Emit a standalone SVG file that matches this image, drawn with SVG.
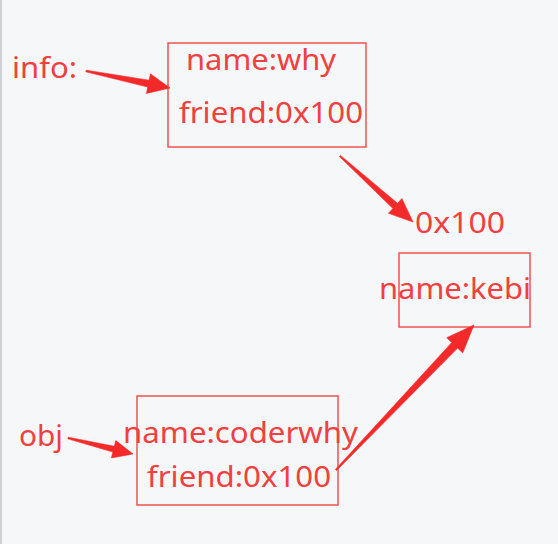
<svg xmlns="http://www.w3.org/2000/svg" width="558" height="544" viewBox="0 0 558 544">
<style>
.t{font-family:"Noto Sans","Open Sans","DejaVu Sans",sans-serif;font-size:29px;fill:#f04040}
.box{fill:none;stroke:#f05252;stroke-width:1.5}
.arr{fill:#f42a2a;stroke:#f42a2a;stroke-width:0.6;stroke-linejoin:round}
</style>
<rect width="558" height="544" fill="#f6f7f9"/>
<line x1="1" y1="0" x2="1" y2="544" stroke="#cfd0d3" stroke-width="2"/>
<g id="info">
<text class="t" x="12" y="78" textLength="65" lengthAdjust="spacingAndGlyphs">info:</text>
</g>
<g id="obj">
<text class="t" x="19" y="446" textLength="44" lengthAdjust="spacingAndGlyphs">obj</text>
</g>
<g id="infoObj">
<rect class="box" x="168" y="43" width="198" height="104"/>
<text class="t" x="186" y="70" textLength="150" lengthAdjust="spacingAndGlyphs">name:why</text>
<text class="t" x="179" y="123" textLength="184" lengthAdjust="spacingAndGlyphs">friend:0x100</text>
</g>
<g id="kebiObj">
<text class="t" x="415" y="233" textLength="90" lengthAdjust="spacingAndGlyphs">0x100</text>
<rect class="box" x="399" y="253" width="131" height="74"/>
<text class="t" x="379" y="299" textLength="152" lengthAdjust="spacingAndGlyphs">name:kebi</text>
</g>
<g id="coderwhyObj">
<rect class="box" x="137" y="396" width="201" height="109"/>
<text class="t" x="123" y="443" textLength="235" lengthAdjust="spacingAndGlyphs">name:coderwhy</text>
<text class="t" x="147" y="487" textLength="184" lengthAdjust="spacingAndGlyphs">friend:0x100</text>
</g>
<g id="connectors">
<polygon class="arr" points="86.2,70.2 149.1,80.2 150.4,73.8 170,88 146.4,93.4 147.7,87.0 85.8,71.8"/>
<polygon class="arr" points="340.5,155.4 397.5,203.3 401.9,198.5 413,222 388.5,213.3 392.9,208.5 339.5,156.6"/>
<polygon class="arr" points="335.4,469.4 451.8,342.5 446.7,337.7 474,325 462.7,352.9 457.6,348.1 336.6,470.6"/>
<polygon class="arr" points="68.2,437.2 114.3,446.3 115.8,440.5 133,454 111.4,457.9 112.9,452.1 67.8,438.8"/>
</g>
</svg>
